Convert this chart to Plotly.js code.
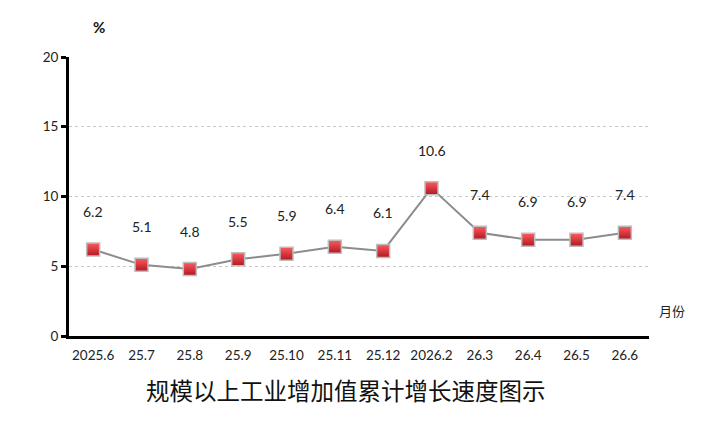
<!DOCTYPE html>
<html>
<head>
<meta charset="utf-8">
<script src="https://cdn.plot.ly/plotly-3.0.1.min.js"></script>
<style>
  html, body { margin: 0; padding: 0; background: #fff; }
  #chart { width: 710px; height: 433px; }
</style>
</head>
<body>
<div id="chart"></div>
<script>
// months shown on the x axis
const months = ['2025.6', '25.7', '25.8', '25.9', '25.10', '25.11', '25.12',
                '2026.2', '26.3', '26.4', '26.5', '26.6'];
// cumulative growth, %
const growth = [6.2, 5.1, 4.8, 5.5, 5.9, 6.4, 6.1, 10.6, 7.4, 6.9, 6.9, 7.4];
const yTicks = [0, 5, 10, 15, 20];

const chartTitle = '规模以上工业增加值累计增长速度图示';
const numFont = 'Lato, "Open Sans", sans-serif';

let line = {
	x: months,
	y: growth,
	mode: 'lines+markers',
	line: { color: '#8c8c8c', width: 2 },
	marker: {
		symbol: 'square',
		size: 13,
		color: '#ff5a5f',
		gradient: { type: 'vertical', color: '#b01822' },
		line: { color: '#bdbdbd', width: 1.5 }
	},
	hoverinfo: 'skip',
	cliponaxis: false
};

// value labels float a fixed distance above each point
// (x given as category index so numeric-looking names aren't misread)
let labels = growth.map((v, i) => ({
	x: i,
	y: v,
	xref: 'x', yref: 'y',
	text: v.toFixed(1),
	showarrow: false,
	yanchor: 'middle',
	yshift: 38,
	font: { family: numFont, size: 14, color: '#222' }
}));

labels.push({
	xref: 'paper', yref: 'paper', x: 1.0, y: 0.05,
	xanchor: 'left', xshift: 8,
	text: '月份', showarrow: false,
	font: { family: '"Noto Sans CJK SC", sans-serif', size: 13, color: '#222' }
});
labels.push({
	xref: 'paper', yref: 'paper', x: 0, y: 1,
	xanchor: 'center', yanchor: 'middle', xshift: 30, yshift: 30,
	text: '<b>%</b>', showarrow: false,
	font: { family: numFont, size: 15, color: '#111' }
});

let layout = {
	width: 710,
	height: 433,
	margin: { l: 69, r: 61, t: 57, b: 97 },
	paper_bgcolor: '#fff',
	plot_bgcolor: '#fff',
	showlegend: false,
	title: {
		text: chartTitle,
		font: { family: '"Noto Sans CJK SC", sans-serif', size: 23.5, color: '#111' },
		x: 0.487, xanchor: 'center',
		y: 0.095, yanchor: 'middle'
	},
	xaxis: {
		type: 'category',
		range: [-0.5, 11.5],
		showgrid: false,
		zeroline: false,
		showline: true,
		linecolor: '#000',
		linewidth: 3,
		ticks: '',
		tickfont: { family: numFont, size: 13.5, color: '#222' },
		ticklabelstandoff: 5,
		fixedrange: true
	},
	yaxis: {
		range: [0, 20],
		tickvals: yTicks,
		showgrid: true,
		gridcolor: '#c8c8c8',
		griddash: '3px,3px',
		gridwidth: 1,
		zeroline: false,
		showline: true,
		linecolor: '#000',
		linewidth: 3,
		ticks: 'outside',
		ticklen: 5,
		tickwidth: 3,
		tickcolor: '#000',
		tickfont: { family: numFont, size: 13.5, color: '#222' },
		fixedrange: true
	},
	annotations: labels
};

Plotly.newPlot('chart', [line], layout, { displayModeBar: false, staticPlot: true });
</script>
</body>
</html>
